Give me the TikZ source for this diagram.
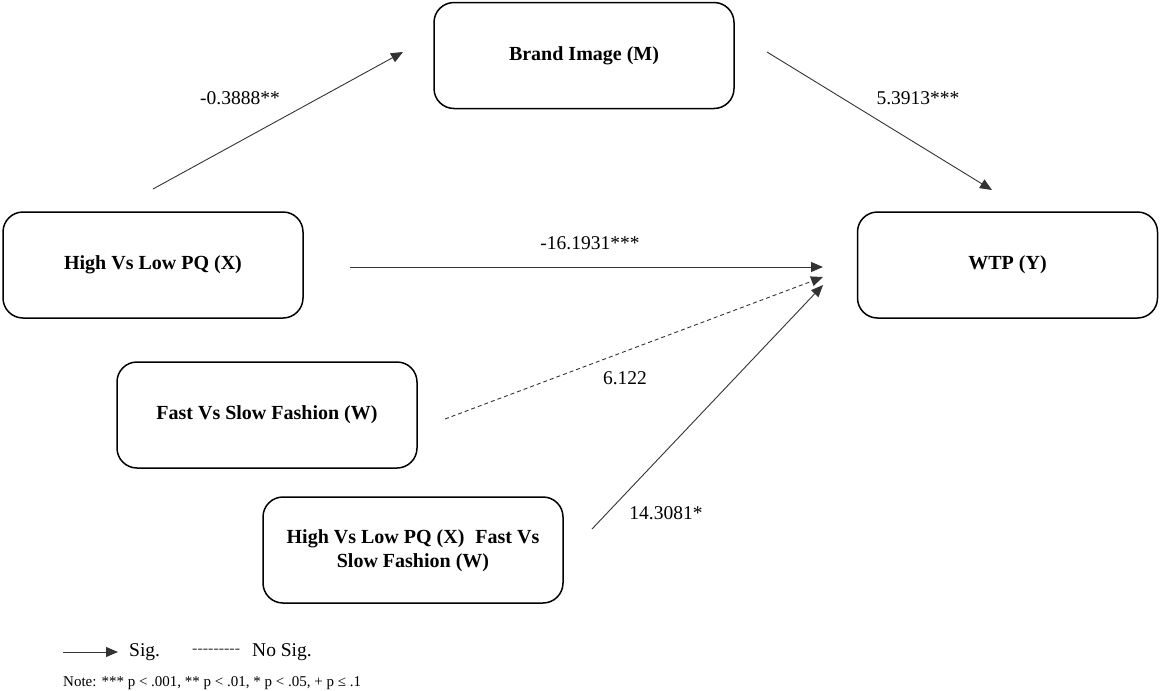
\documentclass[tikz,border=0pt]{standalone}
\usepackage{fontspec}
\setmainfont{Liberation Serif}
% same face without TeX ligatures, so a run of hyphens stays hyphens
\newfontfamily\plainserif{Liberation Serif}
\usetikzlibrary{arrows.meta}

\tikzset{
  box/.style={draw, line width=1.5pt, rounded corners=20pt, minimum width=300pt,
    minimum height=106pt, inner sep=0pt, outer sep=0pt, align=center,
    font=\fontsize{20}{25}\selectfont\bfseries},
  path arrow/.style={line width=0.9pt, draw=black!80, -{Triangle[length=12pt,width=10pt]}},
  ns arrow/.style={path arrow, dash pattern=on 4pt off 3pt},
  coef/.style={font=\fontsize{19.5}{22}\selectfont, inner sep=0pt},
  legend/.style={font=\fontsize{19.5}{22}\selectfont, inner sep=0pt, anchor=west},
  notetext/.style={font=\fontsize{15}{17}\selectfont, inner sep=0pt, anchor=west}
}

\begin{document}
\begin{tikzpicture}[x=1pt,y=-1pt]
\useasboundingbox (0,0) rectangle (1160,691);

% variables
\node[box] (M)  at (584,55.5)    {Brand Image (M)};
\node[box] (X)  at (153,265)     {High Vs Low PQ (X)};
\node[box] (Y)  at (1007.5,265)  {WTP (Y)};
\node[box] (W)  at (267,415)     {Fast Vs Slow Fashion (W)};
\node[box] (XW) at (413,550)     {\raisebox{-5pt}{\begin{tabular}{@{}c@{}}High Vs Low PQ (X)\hspace{0.3em} Fast Vs\\[-1pt]Slow Fashion (W)\end{tabular}}};

% path end points
\coordinate (a-s) at (153,189);
\coordinate (a-e) at (403,52);
\coordinate (b-s) at (767,52);
\coordinate (b-e) at (992,190);
\coordinate (c-s) at (350,267);
\coordinate (c-e) at (823,267);
\coordinate (d-s) at (445,419);
\coordinate (d-e) at (823,277);
\coordinate (e-s) at (592,529);
\coordinate (e-e) at (823,285);

% paths
\draw[path arrow] (a-s) -- (a-e);
\draw[path arrow] (b-s) -- (b-e);
\draw[path arrow] (c-s) -- (c-e);
\draw[ns arrow]   (d-s) -- (d-e);
\draw[path arrow] (e-s) -- (e-e);

% coefficients
\node[coef] (ca) at (240,98)  {-0.3888**};
\node[coef] (cb) at (918,98)  {5.3913***};
\node[coef] (cc) at (590,243) {-16.1931***};
\node[coef] (cd) at (625,378) {6.122};
\node[coef] (ce) at (666,513) {14.3081*};

% legend
\coordinate (l-s) at (63,652);
\coordinate (l-e) at (118,652);
\draw[path arrow] (l-s) -- (l-e);
\node[legend] (lsig) at (129,652) {Sig.};
\node[legend, font=\plainserif\fontsize{16}{18}\selectfont, text=black!75] (ldash) at (192,651) {---------};
\node[legend] (lns)  at (252,652) {No Sig.};
\node[notetext] (note) at (63,683) {Note: *** p < .001, ** p < .01, * p < .05, + p ≤ .1};
\end{tikzpicture}
\end{document}
